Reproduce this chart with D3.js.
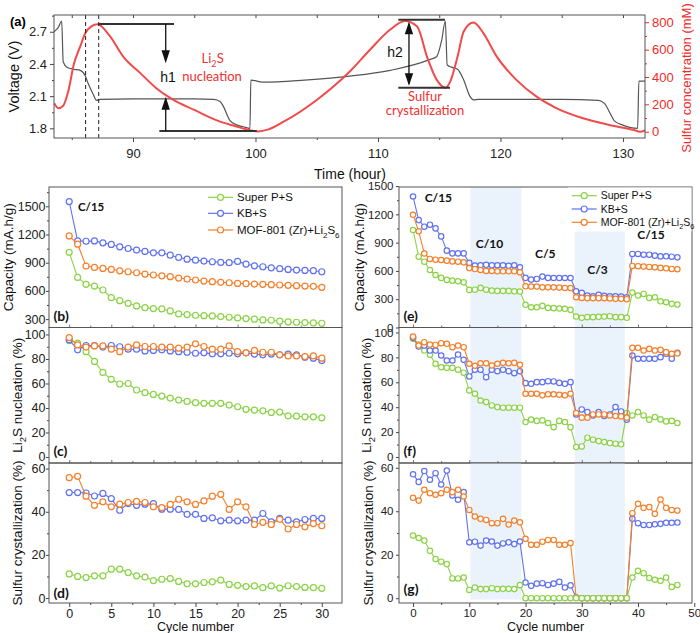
<!DOCTYPE html>
<html><head><meta charset="utf-8">
<script src="https://cdn.jsdelivr.net/npm/d3@7"></script>
<style>body{margin:0;background:#fff}svg{display:block}</style>
</head><body><svg id="c" width="700" height="633"></svg>
<script>
// ---------- DATA ----------
// Panel (a)
const voltageTime = [83.55,83.9,84.18,84.3,84.6,85.2,85.7,86.1,86.35,86.7,87.03,87.3,90,95,96.6,97.1,97.4,97.7,97.9,98.5,99.0,99.55,99.62,100.6,104,107.7,111,114.2,114.8,115.2,115.5,115.65,116.0,116.5,117.0,117.5,117.8,118.2,125,128.0,128.5,129.0,129.3,130,131.2,131.3,131.9];
const voltageValue = [2.70,2.74,2.80,2.42,2.37,2.35,2.34,2.29,2.215,2.13,2.06,2.07,2.075,2.075,2.07,2.05,2.0,1.92,1.875,1.83,1.815,1.80,2.25,2.23,2.25,2.286,2.34,2.44,2.47,2.62,2.80,2.39,2.37,2.35,2.25,2.1,2.066,2.07,2.07,2.06,2.03,1.93,1.87,1.83,1.80,2.24,2.24];
const sulfurTime = [83.57,83.9,84.3,84.7,85.18,85.7,86.1,86.6,87.1,88.1,89.2,90.6,91.9,93.3,95.0,96.9,98.3,99.5,100.2,101.0,102.3,105.0,107.7,109.35,110.98,112.2,113.2,114.0,114.8,115.5,115.9,116.5,117.0,117.8,118.6,119.7,121.3,122.95,124.6,126.75,128.9,130.9,131.4,131.8];
const sulfurConc = [208,172,190,290,496,625,720,770,785,700,549,428,318,232,159,81,42,12,2,15,73,232,440,599,745,810,769,549,379,322,366,549,733,798,721,549,379,256,171,98,49,12,0,10];
const timeTicks = [90,100,110,120,130];
const voltageTicks = [1.8,2.1,2.4,2.7];
const concTicks = [0,200,400,600,800];

// Panels (b)(c)(d)
const cycleLeft = [0,1,2,3,4,5,6,7,8,9,10,11,12,13,14,15,16,17,18,19,20,21,22,23,24,25,26,27,28,29,30];
const capSuperP = [1010,744,670,652,610,528,496,468,440,422,412,408,387,355,348,341,337,334,327,320,313,306,299,292,288,278,270,267,263,260,256];
const capKB = [1550,1132,1128,1132,1111,1094,1069,1051,1034,1020,1005,1005,980,956,938,927,917,910,903,900,914,885,867,857,846,836,829,822,818,815,804];
const capMOF = [1185,1097,864,850,839,829,814,804,793,779,769,761,751,737,726,716,705,698,691,687,680,677,673,670,666,663,659,656,652,649,638];
const nucSuperP = [95,93,86,78,69,63.4,59.6,60,54.7,52.5,51.1,49.7,48.1,46.5,45.4,44.3,43.8,43.8,43.8,42.4,41,38.9,38.3,37.7,36.4,36.7,33.6,33.3,32.8,32.8,32];
const nucKB = [95.6,87.5,91,91,89.7,91,90,88,88,86.6,87,87.5,86.6,86,85.5,84.7,85,84.2,84.2,84.7,84.2,85,84,83.4,84,83.4,84,83.4,81.5,80.7,78.7];
const nucMOF = [97.5,91.5,89.7,90.7,90.7,88,86,89.7,91.5,90.2,90.2,89.7,89.7,88.8,89.7,92.4,90.2,88,88,90.7,86,85,87,85.5,85.5,83.4,82.5,82.5,82,82.5,80.7];
const crySuperP = [11.2,10,9.5,10.3,10.3,13.4,13.4,11.8,10.3,9.7,8.1,8.7,9,7.7,6.6,6.6,7.2,7.5,8.3,6.3,5.9,5.3,5.6,4.8,5.6,4.6,5.7,5.3,4.9,4.8,4.5];
const cryKB = [48.9,48.9,48.7,47.3,48.5,46.1,40.7,43.8,43,43.5,43.8,41.2,41.2,41.1,38.8,38.8,36.9,37.2,35.8,36.1,35.8,36.1,36.1,39.2,35.3,36.9,36.1,35.3,36.4,36.9,36.9];
const cryMOF = [55.8,56.4,47.2,43,44.6,42.3,43.5,44.3,44.8,44.3,42.3,41.9,43.4,45.8,44.6,43.4,45,47.2,48.1,41.1,44.6,42.3,34.1,35.1,34.1,36.5,32,34.1,33,34.5,33.5];

// Panels (e)(f)(g)
const cycleRight = [0,1,2,3,4,5,6,7,8,9,10,11,12,13,14,15,16,17,18,19,20,21,22,23,24,25,26,27,28,29,30,31,32,33,34,35,36,37,38,39,40,41,42,43,44,45,46,47];
const rcapSuperP = [1034,751,698,610,557,526,505,497,490,479, 399,401,420,401,391,388,388,388,384,381, 240,215,215,229,208,205,201,198,187, 116,103,110,110,113,116,120,110,110,103, 370,339,356,314,321,278,268,251,243];
const rcapKB = [1389,1139,1069,1090,1051,966,815,786,786,786, 685,656,660,665,660,660,660,655,660,638, 526,508,515,540,526,525,525,525,525, 384,367,339,331,346,335,331,331,328,321, 780,780,772,772,762,754,755,751,744];
const rcapMOF = [1195,1020,785,727,719,716,709,701,698,691, 630,620,610,600,600,596,596,596,596,585, 437,434,434,426,426,426,423,419,419, 321,314,311,311,311,311,308,304,304,300, 653,650,646,642,638,632,628,621,618];
const rnucSuperP = [94.9,90.3,85.5,82.1,74.9,72.1,71.6,71.6,70.1,67.7, 53.5,50.8,45.4,44.1,41.4,40.1,39.6,39.6,39.6,39.6, 28.1,30,29,29.4,27.3,24,29,28.1,24, 8,8.5,15.5,13.9,12.8,12,11.2,10.7,10.2, 35.3,33.4,36.1,33.4,30,32.1,30.2,28.6,29,27.3];
const rnucKB = [95.7,88.7,89.5,85.5,85.5,81.5,77.5,77.5,82.3,78.1, 64.7,70.1,70.1,64.1,70.1,68.9,70.1,68.9,67.3,68.9, 59.3,58.8,60.1,60.1,60.9,60.7,59.5,58.8,60.1, 34.2,38.2,36.1,33.4,36.1,32.9,34.2,40.1,36.6,30, 81.5,78.9,78.9,78.9,78.9,80.2,82.9,78.9,83.7];
const rnucMOF = [96.7,89.5,92.2,90.3,90,91.4,90.9,88.2,89.5,88.2, 74.9,73.3,75.3,75.3,73.5,74.9,75.6,75.3,75.6,74.1, 50.8,50.8,50.8,49.5,50.4,50.4,50,49.5,50.8, 35.3,31.6,31.6,34.2,34.2,34.2,33.4,32.9,32.6,31.6, 87.7,87.7,85.5,86.8,85.5,86,84.2,82.9,83.2];
const rcrySuperP = [28.8,27.7,26.5,21.8,18,16.8,15.7,9.1,9.1,9.5, 3.8,4.9,4.2,4.2,4.6,4.2,4.3,4.3,4.2,6, 0,0,0,0,0,0,0,0,0,0,0,0,0,0,0,0,0,0,0, 9.5,12.6,11.5,9.3,8.5,8,9.5,5.2,6.1];
const rcryKB = [57,53.5,58.5,54.5,57.5,52.3,58.7,47.3,45.3,48.8, 25.7,26,24.2,26.5,26.1,24.2,25.2,25.7,24.9,26.1, 7.2,5.7,6.7,6.9,6.1,6.7,7.5,4.9,5.9, 0.3,0,0,0,0,0,0,0,0,0, 36.5,34.5,33.7,33.7,34,34.2,34.7,34.7,34.8];
const rcryMOF = [46.2,44.9,49.9,48.3,47.6,48.3,49.9,48.8,49.9,46.8, 40.6,37.6,36.5,36,34.5,34.5,36.5,33.9,35.7,34.9, 27.3,24.6,24.6,26,26.8,26.8,24.6,24.6,25.4, 0.3,0,0,0,0,0,0,0,0,0, 39.1,43.4,41.6,41.9,38.8,45.4,41.6,40.6,40.3];

const seriesNames = ["Super P+S","KB+S","MOF-801 (Zr)+Li|2|S|6"];
const rateLabels = ["C/15","C/10","C/5","C/3","C/15"];
const rateCycle = [4.5,13.6,23.5,32.8,42.3];
const rateCap = [1326,839,733,568,938];
const shadedCycles = [[10.2,19.25],[28.75,37.65]];

// ---------- STYLE ----------
const FONT = "'Liberation Sans', Arial, sans-serif";
const CAL = "Lato, 'Open Sans', sans-serif";
const GREEN = "#8bd346", BLUE = "#6072f0", ORANGE = "#f57f2a", RED = "#f24a4a", AXIS = "#444";
const svg = d3.select("#c");
svg.append("rect").attr("width",700).attr("height",633).attr("fill","#fff");

function rich(sel, str, fs){
  const parts = str.split("|");
  let shift = 0;
  parts.forEach((t,i)=>{
    if(!t) return;
    const s = i%2===1;
    const target = s ? fs*0.3 : 0;
    const ts = sel.append("tspan").text(t).attr("dy", target-shift);
    if(s) ts.attr("font-size", fs*0.7);
    shift = target;
  });
}
function styleAxis(a, fs, col){
  a.select(".domain").remove();
  a.selectAll("line").attr("stroke", col||AXIS);
  a.selectAll("text").attr("font-size",fs).attr("font-family",FONT).attr("fill",col||"#222");
}

// ---------- PANEL (a) ----------
const A = {L:54,R:645,T:15,B:138};
const xA = d3.scaleLinear().domain([83.55,131.8]).range([A.L,A.R]);
const yV = d3.scaleLinear().domain([1.71,2.856]).range([A.B,A.T]);
const yS = d3.scaleLinear().domain([-46,853]).range([A.B,A.T]);
const gA = svg.append("g");
svg.append("defs").append("clipPath").attr("id","clipA").append("rect").attr("x",A.L).attr("y",A.T).attr("width",A.R-A.L).attr("height",A.B-A.T);

let ax;
ax = gA.append("g").attr("transform",`translate(0,${A.B})`).call(d3.axisBottom(xA).tickValues(timeTicks).tickSize(4).tickPadding(7)); styleAxis(ax,13);
ax = gA.append("g").attr("transform",`translate(0,${A.B})`).call(d3.axisBottom(xA).tickValues([85,95,105,115,125]).tickSize(2).tickFormat("")); styleAxis(ax,13);
ax = gA.append("g").attr("transform",`translate(0,${A.T})`).call(d3.axisTop(xA).tickValues([85,90,95,100,105,110,115,120,125,130]).tickSize(-3).tickFormat("")); styleAxis(ax,13);
ax = gA.append("g").attr("transform",`translate(${A.L},0)`).call(d3.axisLeft(yV).tickValues(voltageTicks).tickSize(4).tickPadding(3).tickFormat(d3.format(".1f"))); styleAxis(ax,13);
ax = gA.append("g").attr("transform",`translate(${A.L},0)`).call(d3.axisLeft(yV).tickValues([1.95,2.25,2.55,2.85]).tickSize(2).tickFormat("")); styleAxis(ax,13);
ax = gA.append("g").attr("transform",`translate(${A.R},0)`).call(d3.axisRight(yS).tickValues(concTicks).tickSize(4).tickPadding(3)); styleAxis(ax,13,"#f02a2a");
ax = gA.append("g").attr("transform",`translate(${A.R},0)`).call(d3.axisRight(yS).tickValues([100,300,500,700]).tickSize(2).tickFormat("")); styleAxis(ax,13,"#f02a2a");

const plotA = gA.append("g").attr("clip-path","url(#clipA)");
plotA.append("path").datum(voltageTime.map((t,i)=>[t,voltageValue[i]]))
  .attr("d", d3.line().x(d=>xA(d[0])).y(d=>yV(d[1])).curve(d3.curveMonotoneX))
  .attr("fill","none").attr("stroke","#555").attr("stroke-width",1.2);
plotA.append("path").datum(sulfurTime.map((t,i)=>[t,sulfurConc[i]]))
  .attr("d", d3.line().x(d=>xA(d[0])).y(d=>yS(d[1])).curve(d3.curveMonotoneX))
  .attr("fill","none").attr("stroke",RED).attr("stroke-width",2);

// annotations
[86.13,87.2].forEach(t=>gA.append("line").attr("x1",xA(t)).attr("x2",xA(t)).attr("y1",A.T).attr("y2",A.B).attr("stroke","#222").attr("stroke-width",1).attr("stroke-dasharray","4,3"));
function hline(t1,t2,c){gA.append("line").attr("x1",xA(t1)).attr("x2",xA(t2)).attr("y1",yS(c)).attr("y2",yS(c)).attr("stroke","#333").attr("stroke-width",2);}
function vline(t,c1,c2){gA.append("line").attr("x1",xA(t)).attr("x2",xA(t)).attr("y1",yS(c1)).attr("y2",yS(c2)).attr("stroke","#111").attr("stroke-width",1.3);}
function head(t,cTip,dir,len,hw){
  const x=xA(t), y=yS(cTip);
  gA.append("path").attr("d",`M${x},${y}L${x-hw},${y-dir*len}L${x+hw},${y-dir*len}Z`).attr("fill","#111");
}
hline(87.2,93.35,787); hline(92.15,100.1,5);
vline(92.67,787,560); head(92.67,501,1,13,4.2);
vline(92.67,5,200); head(92.67,256,-1,13,4.2);
hline(111.66,115.47,818); hline(111.66,115.88,322);
vline(112.53,790,350); head(112.53,804,-1,12.5,4.2); head(112.53,335,1,12.5,4.2);
gA.append("text").attr("x",xA(92.86)).attr("y",yS(366)).attr("text-anchor","middle").attr("font-family",FONT).attr("font-size",14).attr("fill","#111").text("h1");
gA.append("text").attr("x",xA(111.39)).attr("y",yS(547)).attr("text-anchor","middle").attr("font-family",FONT).attr("font-size",14).attr("fill","#111").text("h2");
let tt = gA.append("text").attr("x",xA(96.5)).attr("y",yS(500)).attr("text-anchor","middle").attr("font-family",CAL).attr("font-size",13).attr("fill","#f03030"); rich(tt,"Li|2|S",13);
gA.append("text").attr("x",xA(96.45)).attr("y",yS(370)).attr("text-anchor","middle").attr("font-family",CAL).attr("font-size",13).attr("fill","#f03030").text("nucleation");
gA.append("text").attr("x",xA(113.84)).attr("y",yS(222)).attr("text-anchor","middle").attr("font-family",CAL).attr("font-size",13).attr("fill","#f03030").text("Sulfur");
gA.append("text").attr("x",xA(113.84)).attr("y",yS(120)).attr("text-anchor","middle").attr("font-family",CAL).attr("font-size",13).attr("fill","#f03030").text("crystallization");

gA.append("rect").attr("x",A.L).attr("y",A.T).attr("width",A.R-A.L).attr("height",A.B-A.T).attr("fill","none").attr("stroke","#555").attr("stroke-width",1);
gA.append("text").attr("x",10).attr("y",26).attr("font-family",FONT).attr("font-weight","bold").attr("font-size",13).text("(a)");
gA.append("text").attr("transform",`translate(19,${(A.T+A.B)/2}) rotate(-90)`).attr("text-anchor","middle").attr("font-family",FONT).attr("font-size",14.5).attr("fill","#111").text("Voltage (V)");
gA.append("text").attr("transform",`translate(691,78) rotate(-90)`).attr("text-anchor","middle").attr("font-family",FONT).attr("font-size",13).attr("fill","#f02a2a").text("Sulfur concentration (mM)");
gA.append("text").attr("x",350).attr("y",179).attr("text-anchor","middle").attr("font-family",FONT).attr("font-size",14).attr("fill","#111").text("Time (hour)");

// ---------- GENERIC PANEL ----------
let clipId = 0;
function panel(p){
  const g = svg.append("g");
  const x = d3.scaleLinear().domain(p.xd).range([p.L,p.R]);
  const y = d3.scaleLinear().domain(p.yd).range([p.B,p.T]);
  (p.shades||[]).forEach(s=>{
    const yb = p.shadeBottom!=null ? y(p.shadeBottom) : p.B;
    g.append("rect").attr("x",x(s[0])).attr("width",x(s[1])-x(s[0])).attr("y",p.T).attr("height",yb-p.T).attr("fill","#eaf2fb");
  });
  let a;
  a = g.append("g").attr("transform",`translate(${p.L},0)`).call(d3.axisLeft(y).tickValues(p.yt).tickSize(3).tickPadding(p.ypad).tickFormat(d3.format("d"))); styleAxis(a,p.fs);
  a = g.append("g").attr("transform",`translate(${p.L},0)`).call(d3.axisLeft(y).tickValues(p.ym).tickSize(2).tickFormat("")); styleAxis(a,p.fs);
  if(p.xlabels){
    a = g.append("g").attr("transform",`translate(0,${p.B})`).call(d3.axisBottom(x).tickValues(p.xt).tickSize(4).tickPadding(p.xpad)); styleAxis(a,p.fs);
    a = g.append("g").attr("transform",`translate(0,${p.B})`).call(d3.axisBottom(x).tickValues(p.xm).tickSize(2).tickFormat("")); styleAxis(a,p.fs);
  } else {
    a = g.append("g").attr("transform",`translate(0,${p.B})`).call(d3.axisBottom(x).tickValues(p.xt).tickSize(-3).tickFormat("")); styleAxis(a,p.fs,"#777");
    a = g.append("g").attr("transform",`translate(0,${p.B})`).call(d3.axisBottom(x).tickValues(p.xm).tickSize(-2).tickFormat("")); styleAxis(a,p.fs,"#777");
  }
  const id = "clp"+(clipId++);
  svg.append("defs").append("clipPath").attr("id",id).append("rect").attr("x",p.L).attr("y",p.T).attr("width",p.R-p.L).attr("height",p.B-p.T);
  const pg = g.append("g").attr("clip-path",`url(#${id})`);
  p.series.forEach(s=>{
    const pts = p.cycles.map((c,i)=>[c,s.v[i]]);
    pg.append("path").datum(pts).attr("d",d3.line().x(d=>x(d[0])).y(d=>y(d[1]))).attr("fill","none").attr("stroke",s.c).attr("stroke-width",1.1);
    pg.selectAll(null).data(pts).join("circle").attr("cx",d=>x(d[0])).attr("cy",d=>y(d[1])).attr("r",p.r).attr("fill","#fff").attr("stroke",s.c).attr("stroke-width",1.2);
  });
  g.append("rect").attr("x",p.L).attr("y",p.T).attr("width",p.R-p.L).attr("height",p.B-p.T).attr("fill","none").attr("stroke","#555").attr("stroke-width",1);
  g.append("text").attr("x",p.L+4.5).attr("y",p.labY).attr("font-family",CAL).attr("font-weight","bold").attr("font-size",14).attr("fill","#111").text(p.label);
  const yt = g.append("text").attr("transform",`translate(${p.titleX},${(p.T+p.B)/2}) rotate(-90)`).attr("text-anchor","middle").attr("font-family",FONT).attr("font-size",13.5).attr("fill","#111");
  rich(yt,p.title,13.5);
  if(p.xlabels) g.append("text").attr("x",(p.L+p.R)/2).attr("y",631).attr("text-anchor","middle").attr("font-family",FONT).attr("font-size",12.5).attr("fill","#111").text("Cycle number");
  return {g,x,y};
}
function legend(g, x0, ys, fs){
  const cols=[GREEN,BLUE,ORANGE];
  seriesNames.forEach((n,i)=>{
    g.append("line").attr("x1",x0).attr("x2",x0+25).attr("y1",ys[i]).attr("y2",ys[i]).attr("stroke",cols[i]).attr("stroke-width",1.2);
    g.append("circle").attr("cx",x0+12.5).attr("cy",ys[i]).attr("r",3).attr("fill","#fff").attr("stroke",cols[i]).attr("stroke-width",1.2);
    const t=g.append("text").attr("x",x0+29).attr("y",ys[i]+fs*0.36).attr("font-family",FONT).attr("font-size",fs).attr("fill","#111");
    rich(t,n,fs);
  });
}

const LL=49, LR=342, RL=399, RR=692, T1=187, T2=327.5, T3=463, T4=603;
// Left
const pb = panel({L:LL,R:LR,T:T1,B:T2,xd:[-2.4,32.4],yd:[211,1705],yt:[300,600,900,1200,1500],ym:[450,750,1050,1350,1650],xt:[0,5,10,15,20,25,30],xm:[2.5,7.5,12.5,17.5,22.5,27.5],
  fs:12.5,ypad:0.5,cycles:cycleLeft,r:3,series:[{v:capSuperP,c:GREEN},{v:capKB,c:BLUE},{v:capMOF,c:ORANGE}],label:"(b)",labY:321,title:"Capacity (mA.h/g)",titleX:13});
legend(pb.g, 208, [197.3,213.3,230], 11.5);
pb.g.append("text").attr("x",pb.x(2.6)).attr("y",pb.y(1450)).attr("text-anchor","middle").attr("font-family",CAL).attr("font-weight","bold").attr("font-size",11.5).attr("fill","#111").text(rateLabels[0]);
panel({L:LL,R:LR,T:T2,B:T3,xd:[-2.4,32.4],yd:[-4.9,105.7],yt:[0,20,40,60,80,100],ym:[10,30,50,70,90],xt:[0,5,10,15,20,25,30],xm:[2.5,7.5,12.5,17.5,22.5,27.5],
  fs:12.5,ypad:0.5,cycles:cycleLeft,r:3,series:[{v:nucSuperP,c:GREEN},{v:nucKB,c:BLUE},{v:nucMOF,c:ORANGE}],label:"(c)",labY:456,title:"Li|2|S nucleation (%)",titleX:22});
panel({L:LL,R:LR,T:T3,B:T4,xd:[-2.4,32.4],yd:[-2.3,62.6],yt:[0,20,40,60],ym:[10,30,50],xt:[0,5,10,15,20,25,30],xm:[2.5,7.5,12.5,17.5,22.5,27.5],xlabels:true,xpad:2.5,
  fs:12.5,ypad:0.5,cycles:cycleLeft,r:3,series:[{v:crySuperP,c:GREEN},{v:cryKB,c:BLUE},{v:cryMOF,c:ORANGE}],label:"(d)",labY:598,title:"Sulfur crystallization (%)",titleX:22});
// Right
const pe = panel({L:RL,R:RR,T:T1,B:T2,xd:[-2.5,49.6],yd:[0,1490],yt:[0,300,600,900,1200,1500],ym:[150,450,750,1050,1350],xt:[0,10,20,30,40],xm:[5,15,25,35,45],shades:shadedCycles,
  fs:11.5,ypad:2.5,cycles:cycleRight,r:2.7,series:[{v:rcapSuperP,c:GREEN},{v:rcapKB,c:BLUE},{v:rcapMOF,c:ORANGE}],label:"(e)",labY:321,title:"Capacity (mA.h/g)",titleX:364});
pe.g.append("rect").attr("x",568).attr("y",T1+0.5).attr("width",RR-568-0.5).attr("height",44).attr("fill","#fff");
legend(pe.g, 571.7, [195.7,209,222.3], 10.5);
rateLabels.forEach((l,i)=>pe.g.append("text").attr("x",pe.x(rateCycle[i])).attr("y",pe.y(rateCap[i])).attr("text-anchor","middle").attr("font-family",CAL).attr("font-weight","bold").attr("font-size",12).attr("fill","#111").text(l));
panel({L:RL,R:RR,T:T2,B:T3,xd:[-2.5,49.6],yd:[-4.8,104],yt:[0,20,40,60,80,100],ym:[10,30,50,70,90],xt:[0,10,20,30,40],xm:[5,15,25,35,45],shades:shadedCycles,
  fs:11.5,ypad:2.5,cycles:cycleRight,r:2.7,series:[{v:rnucSuperP,c:GREEN},{v:rnucKB,c:BLUE},{v:rnucMOF,c:ORANGE}],label:"(f)",labY:456,title:"Li|2|S nucleation (%)",titleX:371});
panel({L:RL,R:RR,T:T3,B:T4,xd:[-2.5,49.6],yd:[-2.2,62.2],yt:[0,20,40,60],ym:[10,30,50],xt:[0,10,20,30,40,50],xm:[5,15,25,35,45],xlabels:true,xpad:2,shades:shadedCycles,shadeBottom:-0.6,
  fs:11.5,ypad:2.5,cycles:cycleRight,r:2.7,series:[{v:rcryKB,c:BLUE},{v:rcryMOF,c:ORANGE},{v:rcrySuperP,c:GREEN}],label:"(g)",labY:594,title:"Sulfur crystallization (%)",titleX:373});
</script>
</body></html>
